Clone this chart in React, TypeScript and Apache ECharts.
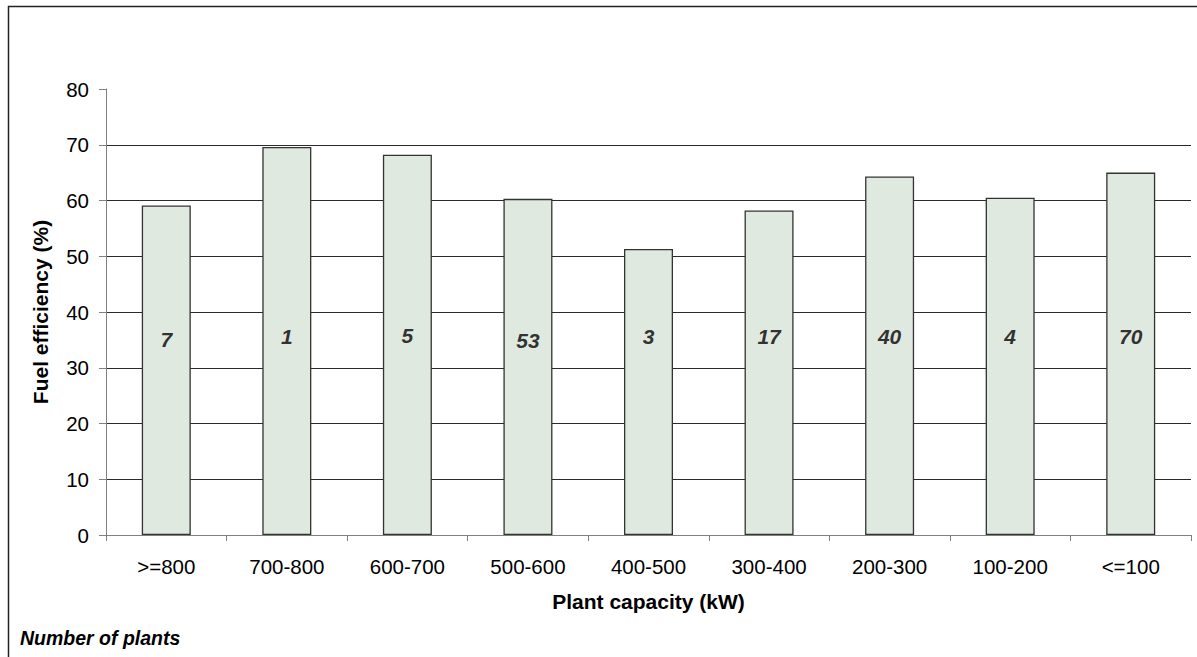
import React, { useEffect, useRef } from "react";
import * as echarts from "echarts";

const categories = [">=800", "700-800", "600-700", "500-600", "400-500", "300-400", "200-300", "100-200", "<=100"];
const efficiency = [59.1, 69.6, 68.2, 60.3, 51.3, 58.2, 64.3, 60.5, 65.0];
const plantCounts = [7, 1, 5, 53, 3, 17, 40, 4, 70];
const countLabelLevel = [35.0, 35.6, 35.8, 34.8, 35.6, 35.6, 35.6, 35.6, 35.6];
const yTicks = { min: 0, max: 80, interval: 10 };

export default function App() {
  const ref = useRef<HTMLDivElement>(null);
  useEffect(() => {
    if (!ref.current) return;
    const chart = echarts.init(ref.current, null, { renderer: "svg" });
    const font = "Liberation Sans, Arial, Helvetica, sans-serif";
    chart.setOption({
      animation: false,
      textStyle: { fontFamily: font },
      grid: { left: 106, right: 6, top: 89, bottom: 122, containLabel: false },
      graphic: [
        {
          type: "rect",
          shape: { x: 8.5, y: 6.5, width: 1400, height: 800 },
          style: { fill: "none", stroke: "#222", lineWidth: 1.5 },
          silent: true,
          z: 100,
        },
        {
          type: "text",
          left: 20,
          top: 628,
          style: {
            text: "Number of plants",
            font: `italic bold 19.5px ${font}`,
            fill: "#000",
          },
        },
      ],
      xAxis: {
        type: "category",
        data: categories,
        boundaryGap: true,
        name: "Plant capacity (kW)",
        nameLocation: "middle",
        nameGap: 56,
        nameTextStyle: { fontSize: 21, fontWeight: "bold", color: "#000", fontFamily: font },
        axisLine: { show: true, lineStyle: { color: "#808080", width: 1 } },
        axisTick: { show: true, length: 6, alignWithLabel: false, lineStyle: { color: "#808080" } },
        axisLabel: { fontSize: 20.5, color: "#000", margin: 21, fontFamily: font, interval: 0 },
        splitLine: { show: false },
      },
      yAxis: {
        type: "value",
        min: yTicks.min,
        max: yTicks.max,
        interval: yTicks.interval,
        name: "Fuel efficiency (%)",
        nameLocation: "middle",
        nameGap: 55,
        nameTextStyle: { fontSize: 21, fontWeight: "bold", color: "#000", fontFamily: font },
        axisLine: { show: true, lineStyle: { color: "#808080", width: 1 } },
        axisTick: { show: true, length: 7, lineStyle: { color: "#808080" } },
        axisLabel: { fontSize: 20.5, color: "#000", margin: 17, fontFamily: font },
        splitLine: { show: true, showMaxLine: false, showMinLine: false, lineStyle: { color: "#2a2a2a", width: 1 } },
      },
      series: [
        {
          type: "bar",
          data: efficiency,
          barWidth: 49,
          itemStyle: { color: "#E0E9E0", borderColor: "#333", borderWidth: 1.3 },
          z: 2,
        },
        {
          type: "scatter",
          data: countLabelLevel,
          symbolSize: 0,
          silent: true,
          z: 5,
          label: {
            show: true,
            position: "inside",
            formatter: (p: any) => String(plantCounts[p.dataIndex]),
            fontSize: 21,
            fontStyle: "italic",
            fontWeight: "bold",
            color: "#000",
            fontFamily: font,
          },
        },
      ],
    });
    return () => chart.dispose();
  }, []);
  return (
    <div
      ref={ref}
      style={{ position: "absolute", left: 0, top: 0, width: 1197, height: 657, background: "#fff" }}
    />
  );
}
